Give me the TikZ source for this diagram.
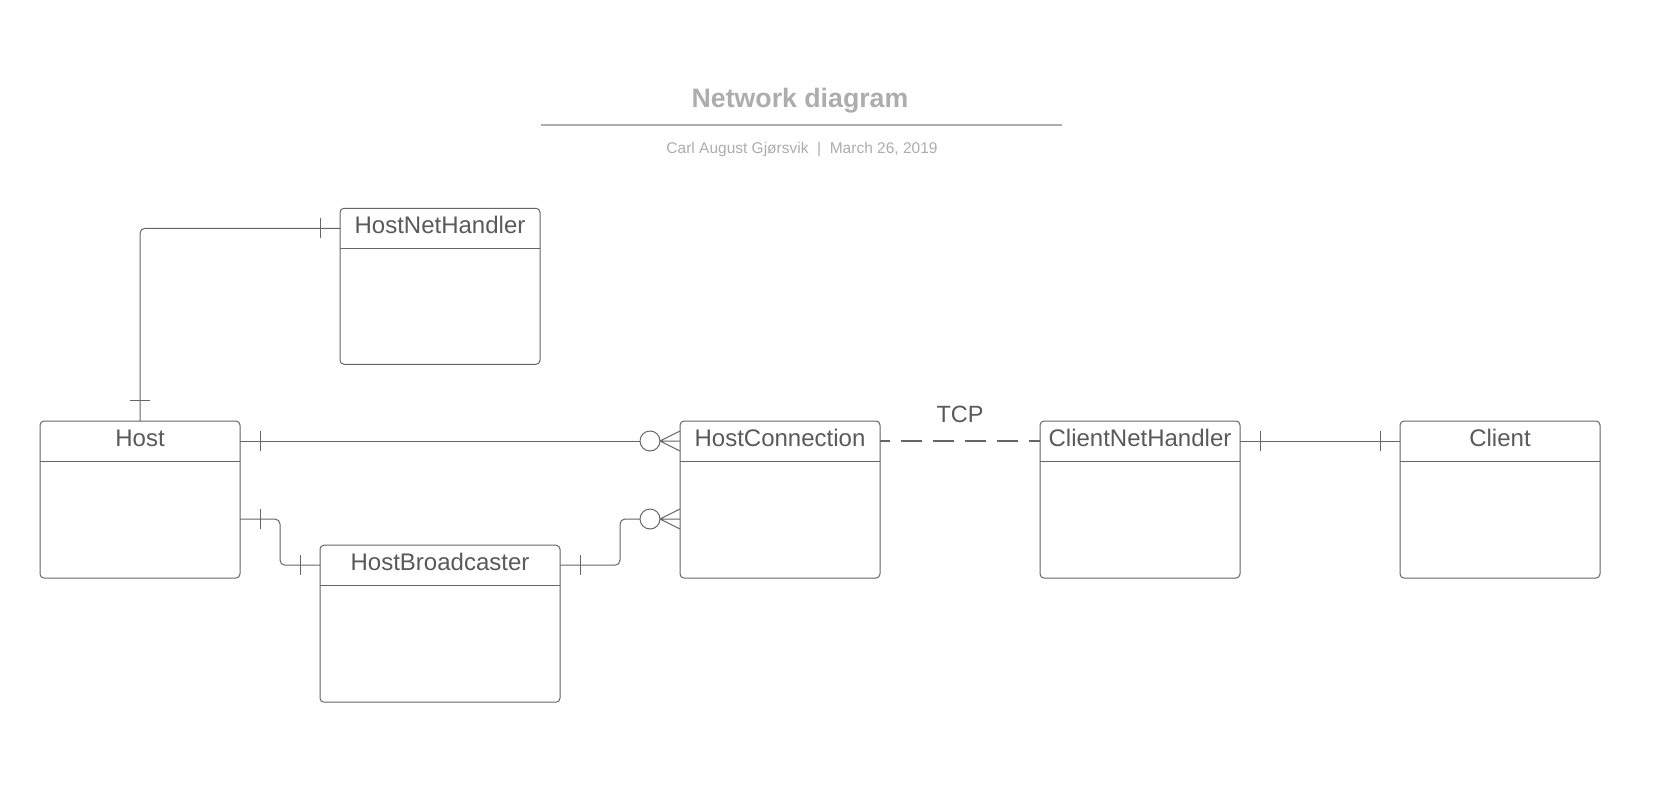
\documentclass[tikz,border=0pt]{standalone}
\usepackage{fontspec}
\setmainfont{Liberation Sans}
\usepackage{xcolor}
\usepackage{tikz}
\usetikzlibrary{positioning}
\definecolor{linegray}{HTML}{666666}
\definecolor{textgray}{HTML}{5A5A5A}
\definecolor{titlegray}{HTML}{ADADAD}
\tikzstyle{entity} = [rectangle, rounded corners=4pt, draw=linegray, line width=1pt, minimum width=200pt, minimum height=157pt, inner sep=0pt, outer sep=0pt]
\tikzstyle{entitytitle} = [anchor=base, text=textgray, font=\fontsize{24}{28}\selectfont, inner sep=0pt]
\tikzstyle{divider} = [draw=linegray, line width=1pt]
\tikzstyle{conn} = [draw=linegray, line width=1pt, rounded corners=5pt]
\tikzstyle{tcp} = [draw=linegray, line width=2pt, dash pattern=on 21pt off 11pt, dash phase=11pt]
\tikzset{
  onebar/.pic={\draw [conn] (0pt,-10pt) -- (0pt,10pt);},
  zeromany/.pic={\draw [conn] (-20pt,0pt) -- (0pt,10pt) (-20pt,0pt) -- (0pt,0pt) (-20pt,0pt) -- (0pt,-10pt);
                 \draw [conn] (-30pt,0pt) circle (10pt);}
}

\begin{document}
\begin{tikzpicture}[x=1pt, y=-1pt]
\useasboundingbox [fill=white] (0,0) rectangle (1680,785);

% Header
\node (title) [anchor=base, text=titlegray, font=\bfseries\fontsize{26.7}{31}\selectfont] at (800,107.5) {Network diagram};
\coordinate (ruleL) at (541,124.7);
\coordinate (ruleR) at (1062,124.7);
\draw [draw=titlegray, line width=2pt] (ruleL) -- (ruleR);
\node (subtitle) [anchor=base, text=titlegray, font=\fontsize{15.5}{18}\selectfont] at (802,153.3) {Carl August Gjørsvik~~|~~March 26, 2019};

% Entities
\node (host) [entity] at (140,499.5) {};
\node (hostconn) [entity, right=440pt of host] {};
\node (clientnet) [entity, right=160pt of hostconn] {};
\node (client) [entity, right=160pt of clientnet] {};
\node (hostnet) [entity, minimum height=156pt] at (440,286.3) {};
\node (hostbc) [entity, minimum width=240pt] at (440,623.7) {};

% Entity names
\node (hosttitle) [entitytitle] at ([yshift=-25pt]host.north) {Host};
\node (hostconntitle) [entitytitle] at ([yshift=-25pt]hostconn.north) {HostConnection};
\node (clientnettitle) [entitytitle] at ([yshift=-25pt]clientnet.north) {ClientNetHandler};
\node (clienttitle) [entitytitle] at ([yshift=-25pt]client.north) {Client};
\node (hostnettitle) [entitytitle] at ([yshift=-25pt]hostnet.north) {HostNetHandler};
\node (hostbctitle) [entitytitle] at ([yshift=-25pt]hostbc.north) {HostBroadcaster};

% Dividers
\draw [divider] ([yshift=-40.5pt]host.north west) -- ([yshift=-40.5pt]host.north east);
\draw [divider] ([yshift=-40.5pt]hostconn.north west) -- ([yshift=-40.5pt]hostconn.north east);
\draw [divider] ([yshift=-40.5pt]clientnet.north west) -- ([yshift=-40.5pt]clientnet.north east);
\draw [divider] ([yshift=-40.5pt]client.north west) -- ([yshift=-40.5pt]client.north east);
\draw [divider] ([yshift=-40pt]hostnet.north west) -- ([yshift=-40pt]hostnet.north east);
\draw [divider] ([yshift=-40pt]hostbc.north west) -- ([yshift=-40pt]hostbc.north east);

% Host -- HostNetHandler
\draw [conn] (host.north) |- ([yshift=-20pt]hostnet.north west);
\pic [rotate=90] at ([yshift=21pt]host.north) {onebar};
\pic at ([shift={(-20pt,-20pt)}]hostnet.north west) {onebar};

% Host -- HostConnection
\draw [conn] ([yshift=-20pt]host.north east) -- ([shift={(-40pt,-20pt)}]hostconn.north west);
\pic at ([shift={(20pt,-20pt)}]host.north east) {onebar};
\pic at ([yshift=-20pt]hostconn.north west) {zeromany};

% Host -- HostBroadcaster
\draw [conn] ([yshift=-98pt]host.north east) -| ([shift={(-40pt,-20pt)}]hostbc.north west) -- ([yshift=-20pt]hostbc.north west);
\pic at ([shift={(20pt,-98pt)}]host.north east) {onebar};
\pic at ([shift={(-20pt,-20pt)}]hostbc.north west) {onebar};

% HostBroadcaster -- HostConnection
\draw [conn] ([yshift=-20pt]hostbc.north east) -| ([shift={(-60pt,-98pt)}]hostconn.north west) -- ([shift={(-40pt,-98pt)}]hostconn.north west);
\pic at ([shift={(20pt,-20pt)}]hostbc.north east) {onebar};
\pic at ([yshift=-98pt]hostconn.north west) {zeromany};

% HostConnection -- ClientNetHandler
\draw [tcp] ([yshift=-20pt]hostconn.north east) -- node (tcplabel) [midway, yshift=27pt, text=textgray, font=\fontsize{23.5}{28}\selectfont] {TCP} ([yshift=-20pt]clientnet.north west);

% ClientNetHandler -- Client
\draw [conn] ([yshift=-20pt]clientnet.north east) -- ([yshift=-20pt]client.north west);
\pic at ([shift={(20pt,-20pt)}]clientnet.north east) {onebar};
\pic at ([shift={(-20pt,-20pt)}]client.north west) {onebar};

\end{tikzpicture}
\end{document}
